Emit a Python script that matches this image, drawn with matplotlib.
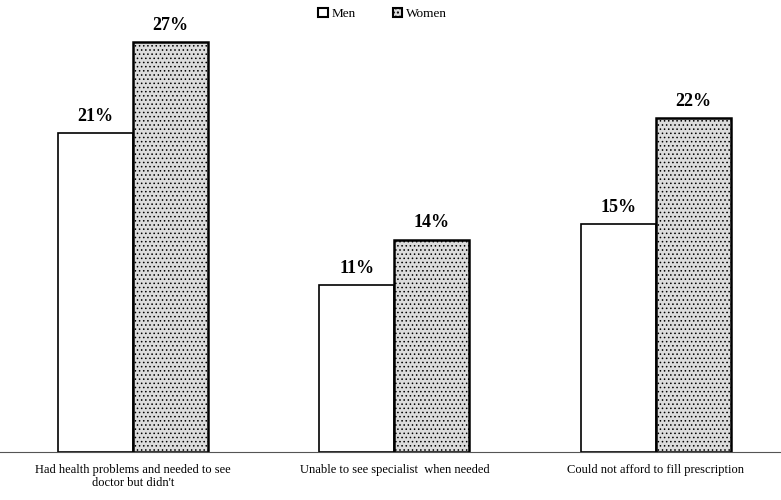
import numpy as np
import matplotlib.pyplot as plt

plt.rcParams['font.family'] = ['Liberation Serif', 'DejaVu Serif']
plt.rcParams['hatch.color'] = "#808080"

categories = ["Had health problems and needed to see\ndoctor but didn't",
              "Unable to see specialist  when needed",
              "Could not afford to fill prescription"]
men = [21, 11, 15]
women = [27, 14, 22]
series_names = ["Men", "Women"]


def main():
    fig = plt.figure(figsize=(7.81, 5), dpi=100)
    ax = fig.add_axes([0, 0.096, 1, 0.904])

    x = np.arange(len(categories))
    width = 0.287

    bars_m = ax.bar(x - width / 2, men, width, color="white", edgecolor="black",
                    linewidth=1.2, label=series_names[0])
    bars_w = ax.bar(x + width / 2, women, width, color="#dcdcdc", edgecolor="black",
                    linewidth=1.8, hatch="....", label=series_names[1])
    for b in bars_w:
        b.set_hatch_linewidth(0.6)

    for bars in (bars_m, bars_w):
        for b in bars:
            ax.annotate(f"{b.get_height():.0f}%",
                        (b.get_x() + b.get_width() / 2, b.get_height()),
                        xytext=(0, 6), textcoords="offset points",
                        ha="center", va="bottom", fontsize=13, fontweight="bold")

    ax.set_xlim(-0.51, 2.48)
    ax.set_ylim(0, 29.8)
    ax.set_xticks(x)
    ax.set_xticklabels(categories, fontsize=9, linespacing=1.1)
    ax.tick_params(axis="x", length=0, pad=9)
    ax.set_yticks([])
    for s in ("top", "left", "right"):
        ax.spines[s].set_visible(False)
    ax.spines["bottom"].set_linewidth(0.8)
    ax.spines["bottom"].set_color("#555555")

    leg = ax.legend(loc="upper center", bbox_to_anchor=(0.49, 1.0), ncol=2, frameon=False,
                    fontsize=9.5, handlelength=0.7, handleheight=0.7, handletextpad=0.3,
                    columnspacing=2.8, borderaxespad=0.2)
    for h in leg.legend_handles:
        h.set_linewidth(1.5)

    fig.savefig("out.png", dpi=100)


if __name__ == "__main__":
    main()
